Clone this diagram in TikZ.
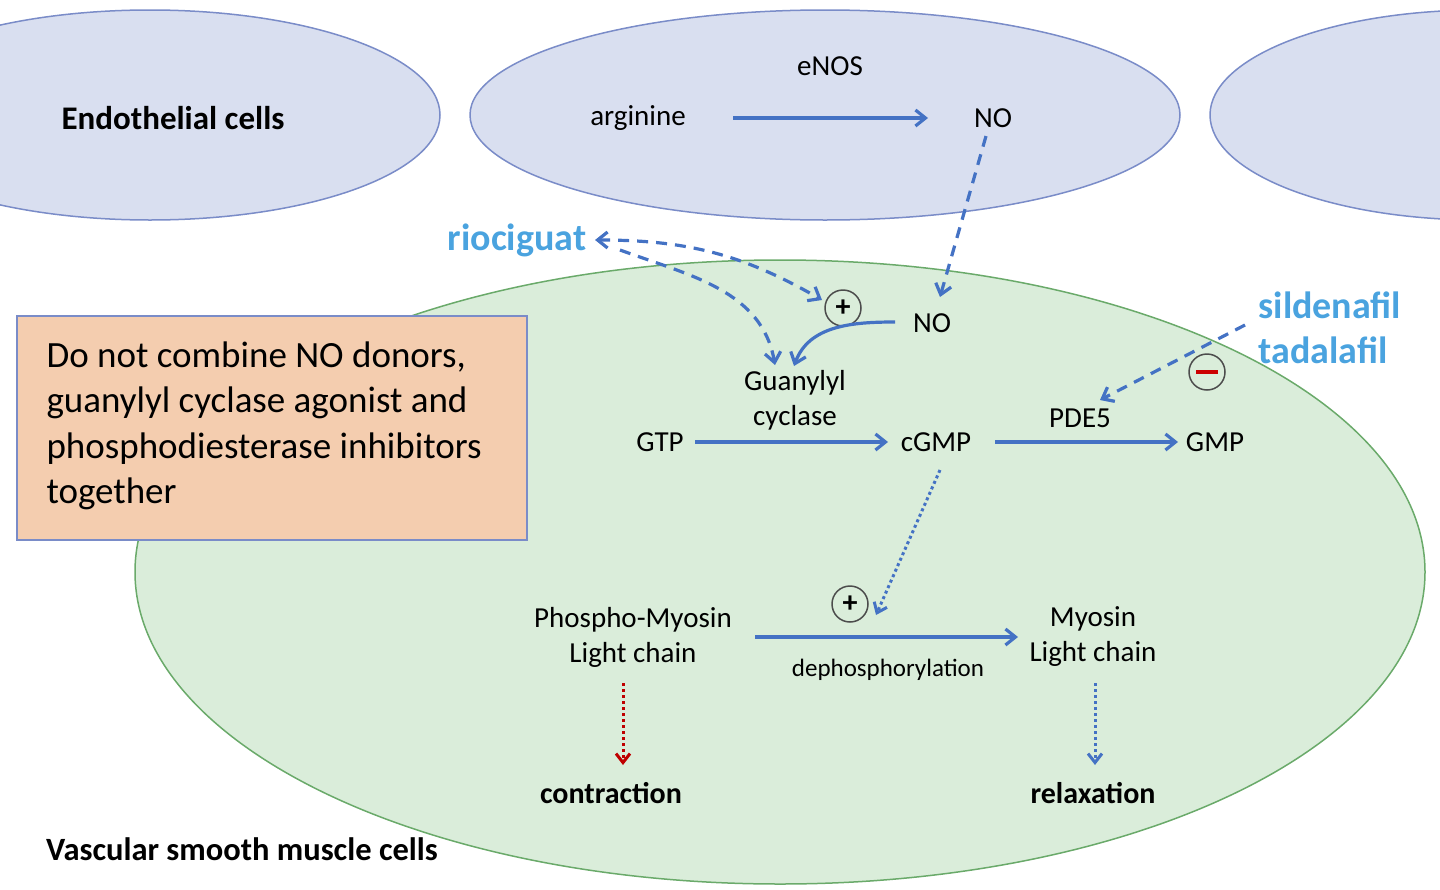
\documentclass[tikz,border=0pt]{standalone}
\usepackage{fontspec}
\setmainfont{Carlito}
\usetikzlibrary{arrows.meta}
\definecolor{ab}{HTML}{4472C4}
\definecolor{ltb}{HTML}{4AA3DF}
\definecolor{ell}{HTML}{D9DFF0}
\definecolor{ellb}{HTML}{7A8CC8}
\definecolor{grn}{HTML}{DAEDDA}
\definecolor{grnb}{HTML}{6AAA6A}
\definecolor{org}{HTML}{F4CDAF}
\begin{document}
\begin{tikzpicture}[x=1pt,y=-1pt,
  lab/.style={font=\fontsize{29}{35}\selectfont,align=center},
  blab/.style={font=\fontsize{33}{38}\selectfont\bfseries},
  drug/.style={font=\fontsize{38}{42}\selectfont\bfseries,text=ltb},
  ar/.style={ab,line width=3.2pt,-{Straight Barb[length=10pt,width=16pt]}},
  da/.style={ar,dash pattern=on 11pt off 8pt},
  dt/.style={ab,line width=3pt,dash pattern=on 3pt off 3pt,-{Straight Barb[length=9pt,width=14pt]}},
  sgn/.style={circle,draw=black!70,line width=1.5pt,minimum size=36pt,inner sep=0pt}]
\useasboundingbox (0,0) rectangle (1440,889);
\clip (0,0) rectangle (1440,889);
\draw[ellb,fill=ell,line width=1.5pt] (150,115) ellipse [x radius=290,y radius=105];
\draw[ellb,fill=ell,line width=1.5pt] (825,115) ellipse [x radius=355,y radius=105];
\draw[ellb,fill=ell,line width=1.5pt] (1480,115) ellipse [x radius=270,y radius=105];
\draw[grnb,fill=grn,line width=1.5pt] (780,572) ellipse [x radius=645,y radius=312];
\node[draw=ellb,fill=org,line width=1.5pt,minimum width=510pt,minimum height=224pt,inner sep=0pt] (box) at (272,428) {};
\node[anchor=north west,align=left,font=\fontsize{37}{45.5}\selectfont] (boxt) at (43,338) {Do not combine NO donors,\\guanylyl cyclase agonist and\\phosphodiesterase inhibitors\\together};
\node[blab] (endo) at (173,118) {Endothelial cells};
\node[lab] (enos) at (830,66) {eNOS};
\node[lab] (arg) at (638,118) {arginine};
\node[lab] (no1) at (993,118) {NO};
\node[drug] (rio) at (517,240) {riociguat};
\node[drug,anchor=west] (sil) at (1255,305) {sildenafil};
\node[drug,anchor=west] (tad) at (1255,350) {tadalafil};
\node[lab] (no2) at (932,323) {NO};
\node[sgn] (p1) at (843,308) {\bfseries\fontsize{30}{30}\selectfont +};
\node[sgn] (m1) at (1207,372) {};
\draw[red!80!black,line width=4.5pt] (1196,372) -- (1218,372);
\node[lab] (gc) at (795,400) {Guanylyl\\cyclase};
\node[lab] (gtp) at (660,442) {GTP};
\node[lab] (cgmp) at (936,442) {cGMP};
\node[lab] (gmp) at (1215,442) {GMP};
\node[lab] (pde) at (1080,418) {PDE5};
\node[sgn] (p2) at (850,604) {\bfseries\fontsize{30}{30}\selectfont +};
\node[lab] (pm) at (633,637) {Phospho-Myosin\\Light chain};
\node[lab] (my) at (1093,637) {Myosin\\Light chain};
\node[lab,font=\fontsize{25}{30}\selectfont] (dep) at (888,670) {dephosphorylation};
\node[blab,font=\fontsize{30}{34}\selectfont\bfseries] (con) at (611,793) {contraction};
\node[blab,font=\fontsize{30}{34}\selectfont\bfseries] (rel) at (1093,793) {relaxation};
\node[blab,font=\fontsize{32.5}{36}\selectfont\bfseries] (vsm) at (242,849) {Vascular smooth muscle cells};
\coordinate (c1) at (733,118); \coordinate (c2) at (928,118);
\draw[ar] (c1) -- (c2);
\draw[da] (no1.south) ++(-7,5) coordinate (c3) (c3) -- (940,297);
\draw[da,{Straight Barb[length=10pt,width=16pt]}-{Straight Barb[length=10pt,width=16pt]}] (595,240) to[out=0,in=150] (822,300);
\draw[da] (620,250) to[out=-20,in=100] (775,365);
\draw[ar] (895,322) to[out=180,in=70] (794,366);
\draw[da] (1245,325) -- (1100,400);
\draw[ar] (695,442) -- (888,442);
\draw[ar] (995,442) -- (1178,442);
\draw[dt] (940,470) -- (876,615);
\draw[ar] (755,637) -- (1018,637);
\draw[dt,red!75!black] (623,683) -- (623,765);
\draw[dt] (1095,683) -- (1095,765);
\end{tikzpicture}
\end{document}
